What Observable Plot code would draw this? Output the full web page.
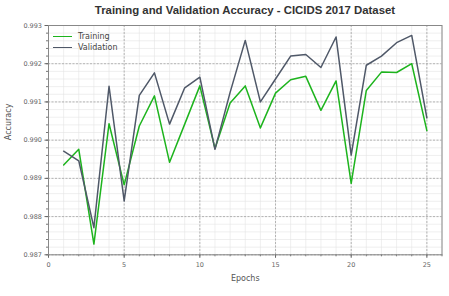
<!DOCTYPE html>
<html><head><meta charset="utf-8">
<script src="https://cdn.jsdelivr.net/npm/d3@7"></script>
<script src="https://cdn.jsdelivr.net/npm/@observablehq/plot@0.6"></script>
<style>
body{margin:0;background:#fff}
#wrap{position:relative;width:449px;height:296px;font-family:"DejaVu Sans",sans-serif}
#title{position:absolute;left:48px;width:394px;top:4px;text-align:center;font-family:"Liberation Sans",Arial,sans-serif;font-weight:bold;font-size:11.4px;color:#333}
#legend{position:absolute;left:53px;top:31px;font-size:8px;color:#444}
.li{display:flex;align-items:center;height:11.3px}
.sw{width:19px;height:0;border-top:1.6px solid;margin-right:6px}
</style>
</head><body><div id="wrap"></div>
<script>
const epochs = [1,2,3,4,5,6,7,8,9,10,11,12,13,14,15,16,17,18,19,20,21,22,23,24,25];
const trainAcc = [0.98935,0.98976,0.98728,0.99043,0.98883,0.99037,0.99116,0.98942,0.99042,0.99142,0.98978,0.99097,0.99142,0.99032,0.99123,0.99158,0.99167,0.99078,0.99155,0.98887,0.99130,0.99178,0.99177,0.99200,0.99025];
const valAcc = [0.98971,0.98946,0.98771,0.99141,0.98841,0.99117,0.99176,0.99042,0.99137,0.99165,0.98976,0.99125,0.99261,0.99100,0.99160,0.99220,0.99224,0.99190,0.99270,0.98961,0.99196,0.99220,0.99255,0.99274,0.99058];
const xTicks = [0,5,10,15,20,25];
const yTicks = [0.987,0.988,0.989,0.990,0.991,0.992,0.993];
const xMinor = d3.range(0,27,1);
const yMinor = d3.range(0,31).map(i => 0.987 + i*0.0002);
const seriesNames = ["Training","Validation"];
const colors = ["#1db41d","#4f5868"];
const title = "Training and Validation Accuracy - CICIDS 2017 Dataset";

const rows = [];
epochs.forEach((e,i)=>{
  rows.push({epoch:e, acc:trainAcc[i], s:seriesNames[0]});
  rows.push({epoch:e, acc:valAcc[i], s:seriesNames[1]});
});

const chart = Plot.plot({
  width:449, height:296,
  marginLeft:48, marginRight:7.5, marginTop:25, marginBottom:41.7,
  style:{fontFamily:"DejaVu Sans, sans-serif", fontSize:"6.5px", color:"#666", background:"#fff"},
  x:{domain:[0,26]},
  y:{domain:[0.987,0.993]},
  color:{domain:seriesNames, range:colors},
  marks:[
    Plot.gridX(xMinor,{stroke:"#e4e4e4", strokeOpacity:1, strokeWidth:0.6}),
    Plot.gridY(yMinor,{stroke:"#e4e4e4", strokeOpacity:1, strokeWidth:0.6}),
    Plot.gridX(xTicks,{stroke:"#999", strokeOpacity:1, strokeWidth:0.7, strokeDasharray:"2,1.5"}),
    Plot.gridY(yTicks,{stroke:"#999", strokeOpacity:1, strokeWidth:0.7, strokeDasharray:"2,1.5"}),
    Plot.axisX(xMinor,{tickSize:2, tickFormat:null, text:null, label:null, stroke:"#777"}),
    Plot.axisY(yMinor,{tickSize:2, tickFormat:null, text:null, label:null, stroke:"#777"}),
    Plot.axisX(xTicks,{tickSize:3.5, tickPadding:4, label:null, stroke:"#666", fill:"#666"}),
    Plot.axisY(yTicks,{tickSize:3.5, tickPadding:3, tickFormat:d3.format(".3f"), label:null, stroke:"#666", fill:"#666"}),
    Plot.frame({stroke:"#888", strokeWidth:1}),
    Plot.line(rows,{x:"epoch", y:"acc", z:"s", stroke:"s", strokeWidth:1.5}),
    Plot.text(["Accuracy"],{frameAnchor:"left", dx:-40, rotate:-90, fontSize:8, fill:"#555"}),
    Plot.text(["Epochs"],{frameAnchor:"bottom", dy:26, fontSize:8, fill:"#555"})
  ]
});
const wrap = document.getElementById("wrap");
wrap.appendChild(chart);
const t = document.createElement("div"); t.id="title"; t.textContent = title; wrap.appendChild(t);
const lg = document.createElement("div"); lg.id="legend";
seriesNames.forEach((n,i)=>{
  const r = document.createElement("div"); r.className="li";
  const sw = document.createElement("div"); sw.className="sw"; sw.style.borderColor = colors[i];
  const tx = document.createElement("span"); tx.textContent = n;
  r.appendChild(sw); r.appendChild(tx); lg.appendChild(r);
});
wrap.appendChild(lg);
</script>
</body></html>
